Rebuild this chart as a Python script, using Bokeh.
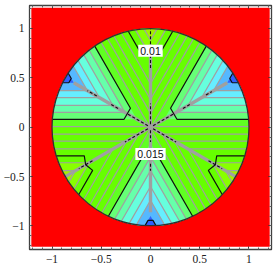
import math
from bokeh.plotting import figure
from bokeh.embed import file_html
from bokeh.resources import INLINE
from bokeh.models import Label, LinearAxis, FixedTicker, Range1d

# contour levels (value) and where each crosses the horizontal part of its chevron (y)
contour_values = [0.020, 0.019, 0.018, 0.017, 0.016, 0.015, 0.014, 0.013, 0.012, 0.011, 0.010, 0.009, 0.008]
contour_y = [0.45, 0.37, 0.30, 0.22, 0.15, 0.08, 0.005, -0.07, -0.14, -0.22, -0.29, -0.36, -0.44]
band_colors = ["#3060ff", "#55b8ff", "#66eeff", "#66ffdd", "#66ffaa", "#66ff77", "#60ff22",
               "#66ff00", "#66ff00", "#66ff00", "#66ff00", "#88ff00", "#a4f000"]
black_values = [0.020, 0.015, 0.010]
black_gap = [0.05, 0.13, 0.17]
black_hook = [0.0, 0.0, 0.18]

spoke_angles = [30, 90, 150, 210, 270, 330]
spoke_ends = [0.90, 0.84, 0.90, 1.0, 0.86, 1.0]
dash_spokes = [30, 30, 30, 90, 90, 90, 150, 150, 150, 210, 210, 270, 270, 330, 330]
dash_from = [0.03, 0.38, 0.65, 0.03, 0.60, 0.84, 0.03, 0.38, 0.63, 0.03, 0.68, 0.03, 0.37, 0.03, 0.68]
dash_to = [0.28, 0.46, 0.72, 0.24, 0.72, 1.00, 0.28, 0.46, 0.74, 0.30, 0.84, 0.15, 0.44, 0.30, 0.84]

tick_major = [-1, -0.5, 0, 0.5, 1]
tick_labels = ["\u22121", "\u22120.5", "0", "0.5", "1"]
tick_minor = [i / 10 for i in range(-12, 13)]
label_x = [0.0, 0.0]
label_y = [0.775, -0.27]
label_text = ["0.01", "0.015"]

RED = "#ff0000"
GREEN = "#66ff00"
GRAY = "#a0a0a0"
BLACK = "#101010"


def rim_hit(px, py, dx, dy):
    b = px * dx + py * dy
    c = px * px + py * py - 1
    t = -b + math.sqrt(b * b - c)
    return px + dx * t, py + dy * t


def chevrons(level):
    out = []
    angles = [30, 150, 270] if level > 0 else [90, 210, 330]
    r = 2 * abs(level)
    for a in angles:
        ca, sa = math.cos(math.radians(a)), math.sin(math.radians(a))
        ax, ay = r * ca, r * sa
        d1 = (math.cos(math.radians(a - 30)), math.sin(math.radians(a - 30)))
        d2 = (math.cos(math.radians(a + 30)), math.sin(math.radians(a + 30)))
        out.append(((ax, ay), d1, d2, rim_hit(ax, ay, *d1), rim_hit(ax, ay, *d2), (ca, sa)))
    return out


p = figure(width=273, height=273, toolbar_location=None, output_backend="svg",
           x_range=Range1d(-1.2285, 1.2285), y_range=Range1d(-1.238, 1.232),
           min_border_left=29, min_border_right=2, min_border_top=5, min_border_bottom=24)
p.margin = (0, 0, 0, 0)
p.grid.visible = False
p.background_fill_color = "white"
p.border_fill_color = "white"
p.outline_line_color = "#404040"
p.outline_line_width = 1.3

p.quad(left=[-1.21], right=[1.21], bottom=[-1.21], top=[1.21], fill_color=RED, line_color=None)
p.circle(x=[0], y=[0], radius=[1], fill_color=GREEN, line_color=None)

order = sorted(range(len(contour_y)), key=lambda i: abs(contour_y[i]))
for i in order:
    xs, ys = [], []
    for apex, d1, d2, h1, h2, sp in chevrons(contour_y[i]):
        a1 = math.atan2(h1[1], h1[0])
        a2 = math.atan2(h2[1], h2[0])
        while a2 < a1:
            a2 += 2 * math.pi
        arc = [a1 + (a2 - a1) * k / 16 for k in range(17)]
        xs.append([apex[0]] + [math.cos(t) for t in arc])
        ys.append([apex[1]] + [math.sin(t) for t in arc])
    p.patches(xs, ys, fill_color=band_colors[i], line_color=None)

gx, gy, bx, by = [], [], [], []
for i, v in enumerate(contour_values):
    for apex, d1, d2, h1, h2, sp in chevrons(contour_y[i]):
        if v in black_values:
            k = black_values.index(v)
            g = black_gap[k]
            px = [h1[0], apex[0] + d1[0] * g]
            py = [h1[1], apex[1] + d1[1] * g]
            if black_hook[k]:
                px.append(apex[0] + sp[0] * black_hook[k])
                py.append(apex[1] + sp[1] * black_hook[k])
            px += [apex[0] + d2[0] * g, h2[0]]
            py += [apex[1] + d2[1] * g, h2[1]]
            bx.append(px)
            by.append(py)
        else:
            gx.append([h1[0], apex[0], h2[0]])
            gy.append([h1[1], apex[1], h2[1]])
p.multi_line(gx, gy, line_color=GRAY, line_width=1.2)

sx = [[0, e * math.cos(math.radians(a))] for a, e in zip(spoke_angles, spoke_ends)]
sy = [[0, e * math.sin(math.radians(a))] for a, e in zip(spoke_angles, spoke_ends)]
p.multi_line(sx, sy, line_color=GRAY, line_width=3.4)
p.multi_line(bx, by, line_color=BLACK, line_width=1.2)
dx = [[f * math.cos(math.radians(a)), t * math.cos(math.radians(a))] for a, f, t in zip(dash_spokes, dash_from, dash_to)]
dy = [[f * math.sin(math.radians(a)), t * math.sin(math.radians(a))] for a, f, t in zip(dash_spokes, dash_from, dash_to)]
p.multi_line(dx, dy, line_color=BLACK, line_width=1.1, line_dash="3 2")

p.circle(x=[0], y=[0], radius=[1], fill_color=None, line_color="#303030", line_width=1.3)

overrides = {t: s for t, s in zip(tick_major, tick_labels)}
ticker = FixedTicker(ticks=tick_major, minor_ticks=tick_minor)


def style(ax, show):
    ax.ticker = ticker
    ax.axis_line_color = "#404040"
    ax.major_tick_line_color = "#303030"
    ax.minor_tick_line_color = "#606060"
    ax.major_tick_in = 3
    ax.major_tick_out = 0
    ax.minor_tick_in = 2
    ax.minor_tick_out = 0
    if show:
        ax.major_label_overrides = overrides
        ax.major_label_text_font = "Liberation Serif"
        ax.major_label_text_font_size = "11.5px"
        ax.major_label_text_color = "#202020"
        ax.major_label_standoff = 5
    else:
        ax.major_label_text_font_size = "0px"
        ax.major_label_standoff = 0
        ax.major_label_text_color = None


style(p.xaxis[0], True)
style(p.yaxis[0], True)
top = LinearAxis()
right = LinearAxis()
style(top, False)
style(right, False)
p.add_layout(top, "above")
p.add_layout(right, "right")

for lx, ly, lt in zip(label_x, label_y, label_text):
    p.add_layout(Label(x=lx, y=ly, text=lt, text_align="center", text_baseline="middle",
                       text_font="Liberation Sans", text_font_size="10.5px", text_color="#101010",
                       background_fill_color="white", padding=2))

open("out.html", "w").write(file_html(p, INLINE))
